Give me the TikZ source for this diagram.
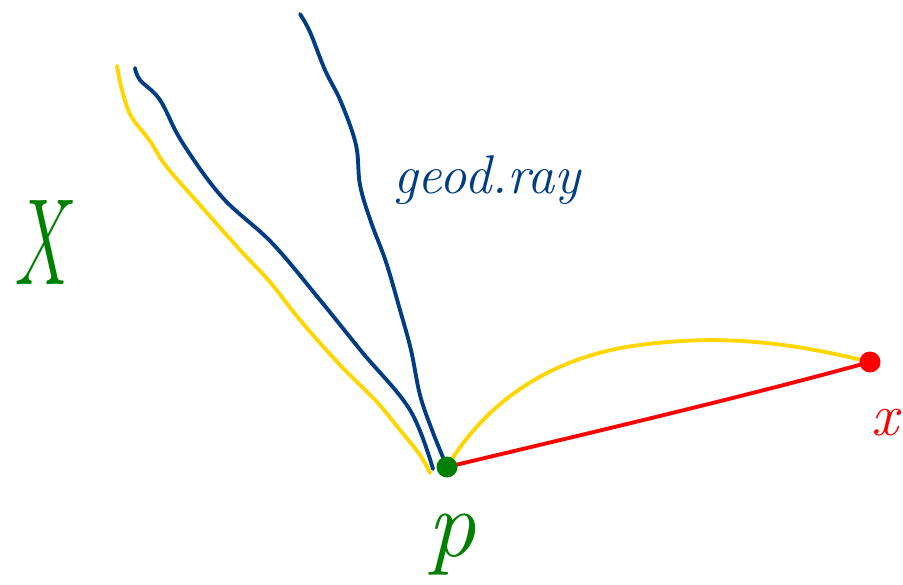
\documentclass[tikz,border=0pt]{standalone}
\usetikzlibrary{calc}

\definecolor{rayblue}{RGB}{0,61,130}
\definecolor{hiyel}{RGB}{255,214,0}
\definecolor{ptgreen}{RGB}{0,128,0}
\definecolor{ptred}{RGB}{255,0,0}

\begin{document}
\begin{tikzpicture}[
  x=0.02cm, y=-0.02cm,
  stroke/.style={line width=2.2pt, line cap=round, line join=round},
  ray/.style={stroke, draw=rayblue},
  hil/.style={stroke, draw=hiyel},
  geo/.style={stroke, draw=ptred},
  dot/.style={circle, inner sep=0pt, minimum size=4.2mm},
  hand/.style={inner sep=0pt, font=\itshape}
]
\useasboundingbox (0,0) rectangle (903,585);

\coordinate (p) at (447,467);
\coordinate (x) at (870,362);
\coordinate (r1) at (300,14);
\coordinate (r2) at (135,68);
\coordinate (h1) at (117,66);

% geodesic rays towards the boundary
\draw[ray] plot[smooth, tension=0.6] coordinates {(p) (432,430) (420,395) (411,350) (400,310)
  (386,262) (371,222) (360,185) (356,145) (341,102) (325,70) (310,32) (r1)};
\draw[ray] plot[smooth, tension=0.6] coordinates {($(p)+(-14,2)$) (410,410) (362,352) (320,300)
  (272,243) (222,197) (182,142) (160,100) (140,80) (r2)};
\draw[hil] plot[smooth, tension=0.6] coordinates {($(p)+(-17,6)$) (420,455) (400,430) (376,401)
  (340,365) (300,320) (270,282) (240,250) (200,205) (166,166) (150,141) (131,116) (122,90) (h1)};

% from p to x
\draw[hil] (p) .. controls (490,395) and (560,355) .. (640,345)
  .. controls (730,333) and (800,345) .. (x);
\draw[geo] (p) .. controls (560,440) and (740,398) .. (x);

\node[dot, fill=ptgreen] (pdot) at (p) {};
\node[dot, fill=ptred] (xdot) at (x) {};

\node[hand, text=rayblue, font=\itshape\fontsize{31}{31}\selectfont] (lray) at (487,180) {geod.ray};
\node[hand, text=ptgreen, font=\itshape\fontsize{70}{70}\selectfont] (lX) at (40,242) {\scalebox{0.6}[1]{X}};
\node[hand, text=ptgreen, font=\itshape\fontsize{55}{55}\selectfont] (lp) at (452,545) {p};
\node[hand, text=ptred, font=\itshape\fontsize{34}{34}\selectfont] (lx) at (885,423) {x};
\end{tikzpicture}
\end{document}
